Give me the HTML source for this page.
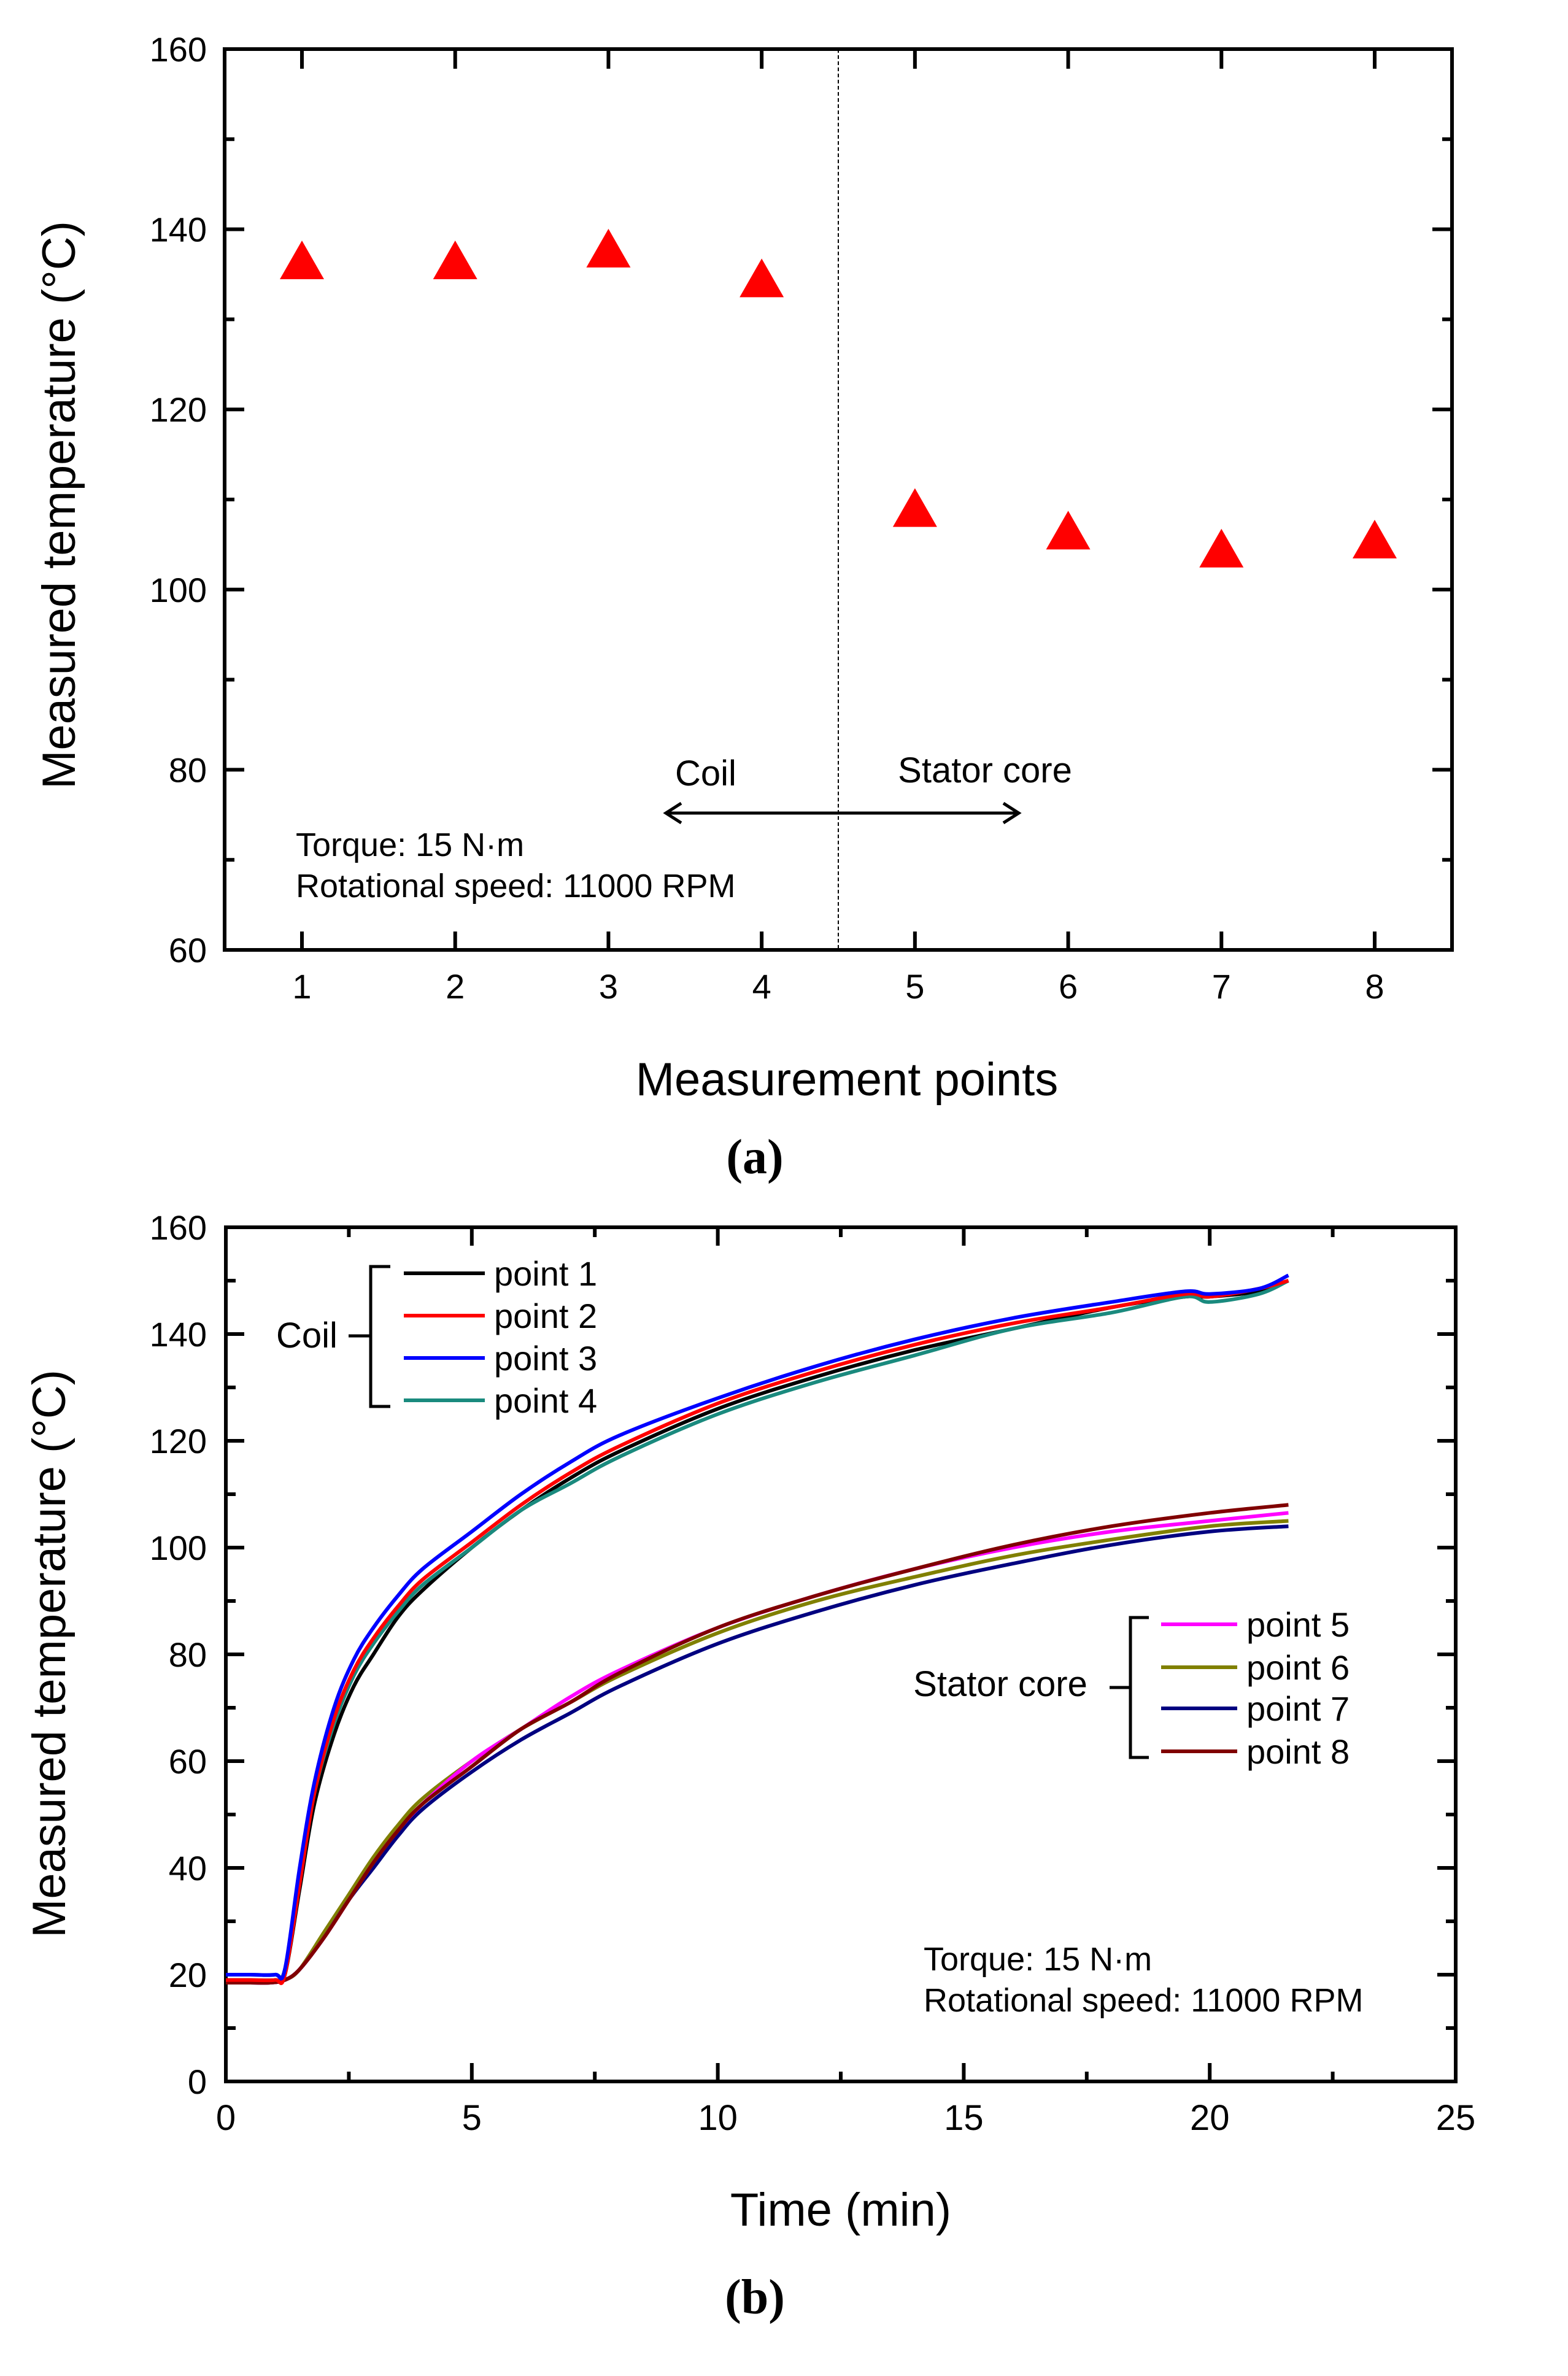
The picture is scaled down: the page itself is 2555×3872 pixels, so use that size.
<!DOCTYPE html>
<html><head><meta charset="utf-8"><style>
html,body{margin:0;padding:0;background:#fff;}
svg{display:block;}
text{font-family:"Liberation Sans",sans-serif;fill:#000;}
</style></head><body>
<svg id="svg" width="2555" height="3872" viewBox="0 0 2555 3872" xmlns="http://www.w3.org/2000/svg">
<g id="pa"></g>
<g id="pb"></g>
</svg>
<script>
// ---- Chart (a) data ----
const aPoints = [1,2,3,4,5,6,7,8];
const aTemps = [136.5,136.5,137.8,134.5,109,106.5,104.5,105.5];
const aYTicks = [60,80,100,120,140,160];
const aXTicks = [1,2,3,4,5,6,7,8];
// ---- Chart (b) data ----
const coilTime = [0,0.5,1,1.2,1.5,1.8,2.2,2.6,3,3.5,4,5,6,7,8,10,12,14,16,18,19.5,20,21,21.6];
const point1 = [19,19,19,20,36,52,65,74,80,87,92,100,107,113,118,126,132,137,141,145,147,147,148,150];
const point2 = [19,19,19,20,37,54,68,77,83,89,94,101,108,114,119,127,133,138,142,145,147.5,147,148.5,150];
const point3 = [20,20,20,21,40,56,70,79,85,91,96,103,110,116,121,128,134,139,143,146,148,147.5,148.5,151];
const point4 = [20,20,20,21,38,54,67,76,82,88,93,100,107,112,117,125,131,136,141,144,147,146,147.5,150];
const coreTime = [0,0.5,0.9,1.2,1.5,2,2.5,3,3.5,4,5,6,7,8,10,12,14,16,18,20,21.6];
const point5 = [18.5,18.5,18.5,19,21,27,34,41,47,52,60,66,72,77,85,91,96,100,103,105,106.5];
const point6 = [18.5,18.5,18.5,19,21,28,35,42,48,53,60,66,71,76,84,90,94.5,98.5,101.5,104,105];
const point7 = [18.5,18.5,18.5,19,21,27,34,40,46,51,58,64,69,74,82,88,93,97,100.5,103,104];
const point8 = [18.5,18.5,18.5,19,21,27,34,41,47,52,59,66,71,76.5,85,91,96,100.5,104,106.5,108];
const bYTicks = [0,20,40,60,80,100,120,140,160];
const bXTicks = [0,5,10,15,20,25];

const NS="http://www.w3.org/2000/svg";
function mk(parent,tag,attrs,txt){const e=document.createElementNS(NS,tag);for(const k in attrs)e.setAttribute(k,attrs[k]);if(txt!==undefined)e.textContent=txt;parent.appendChild(e);return e;}

// ===== Chart A =====
const A=document.getElementById('pa');
const aL=366,aR=2366,aT=80,aB=1548;
const ax=v=>492+(v-1)*(2240-492)/7;
const ay=v=>aB-(v-60)*(aB-aT)/100;
let e;
e=mk(A,'rect',{x:aL,y:aT,width:aR-aL,height:aB-aT,fill:'none',stroke:'#000','stroke-width':6});


for(let v=60;v<=160;v+=10){const major=v%20===0;const len=major?32:16;
 mk(A,'line',{x1:aL,x2:aL+len,y1:ay(v),y2:ay(v),stroke:'#000','stroke-width':6});
 mk(A,'line',{x1:aR,x2:aR-len,y1:ay(v),y2:ay(v),stroke:'#000','stroke-width':6});}
aYTicks.forEach(v=>{e=mk(A,'text',{x:337,y:ay(v)+20,'font-size':56,'text-anchor':'end'},String(v));
 
 });
aXTicks.forEach(v=>{mk(A,'line',{x1:ax(v),x2:ax(v),y1:aB,y2:aB-30,stroke:'#000','stroke-width':6});
 mk(A,'line',{x1:ax(v),x2:ax(v),y1:aT,y2:aT+32,stroke:'#000','stroke-width':6});
 e=mk(A,'text',{x:ax(v),y:1627,'font-size':56,'text-anchor':'middle'},String(v));
 
 });
e=mk(A,'line',{x1:ax(4.5),x2:ax(4.5),y1:aT,y2:aB,stroke:'#000','stroke-width':2,'stroke-dasharray':'6,4'});


aTemps.forEach((t,i)=>{const cx=ax(aPoints[i]),cy=ay(t);
 e=mk(A,'polygon',{points:`${cx},${cy-33} ${cx-36},${cy+30} ${cx+36},${cy+30}`,fill:'#ff0000'});
 
 });
// arrow
e=mk(A,'g',{});


mk(e,'line',{x1:1085,x2:1660,y1:1325,y2:1325,stroke:'#000','stroke-width':5});
mk(e,'polyline',{points:'1110,1309 1085,1325 1110,1341',fill:'none',stroke:'#000','stroke-width':5});
mk(e,'polyline',{points:'1635,1309 1660,1325 1635,1341',fill:'none',stroke:'#000','stroke-width':5});
e=mk(A,'text',{x:1150,y:1280,'font-size':58,'text-anchor':'middle'},'Coil');


e=mk(A,'text',{x:1605,y:1275,'font-size':58,'text-anchor':'middle'},'Stator core');


e=mk(A,'text',{x:482,y:1395,'font-size':54},'Torque: 15 N·m');


e=mk(A,'text',{x:482,y:1462,'font-size':54},'Rotational speed:  11000  RPM');


e=mk(A,'text',{x:1380,y:1785,'font-size':76,'text-anchor':'middle'},'Measurement points');


e=mk(A,'text',{x:0,y:0,'font-size':76,'text-anchor':'middle',transform:'translate(122,823) rotate(-90)'},'Measured temperature (°C)');


e=mk(A,'text',{x:1230,y:1912,'font-size':80,'font-weight':'bold','text-anchor':'middle',style:'font-family:"Liberation Serif",serif'},'(a)');



// ===== Chart B =====
const B=document.getElementById('pb');
const bL=368,bR=2372,bT=2000,bB=3392;
const bx=v=>bL+v*(bR-bL)/25;
const by=v=>bB-v*(bB-bT)/160;
e=mk(B,'rect',{x:bL,y:bT,width:bR-bL,height:bB-bT,fill:'none',stroke:'#000','stroke-width':6});


for(let v=0;v<=160;v+=10){const major=v%20===0;const len=major?30:16;
 mk(B,'line',{x1:bL,x2:bL+len,y1:by(v),y2:by(v),stroke:'#000','stroke-width':6});
 mk(B,'line',{x1:bR,x2:bR-len,y1:by(v),y2:by(v),stroke:'#000','stroke-width':6});}
for(let v=0;v<=25;v+=2.5){const major=v%5===0;const len=major?30:16;
 mk(B,'line',{x1:bx(v),x2:bx(v),y1:bB,y2:bB-len,stroke:'#000','stroke-width':6});
 mk(B,'line',{x1:bx(v),x2:bx(v),y1:bT,y2:bT+len,stroke:'#000','stroke-width':6});}
bYTicks.forEach(v=>{e=mk(B,'text',{x:337,y:by(v)+20,'font-size':56,'text-anchor':'end'},String(v));
 
 });
bXTicks.forEach(v=>{e=mk(B,'text',{x:bx(v),y:3471,'font-size':58,'text-anchor':'middle'},String(v));
 
 });
function curve(ts,vs,color,name){
 const pts=ts.map((t,i)=>[bx(t),by(vs[i])]);
 let d='M'+pts[0][0]+','+pts[0][1];
 for(let i=0;i<pts.length-1;i++){const p0=pts[Math.max(0,i-1)],p1=pts[i],p2=pts[i+1],p3=pts[Math.min(pts.length-1,i+2)];
  const c1=[p1[0]+(p2[0]-p0[0])/6,p1[1]+(p2[1]-p0[1])/6],c2=[p2[0]-(p3[0]-p1[0])/6,p2[1]-(p3[1]-p1[1])/6];
  d+=` C${c1[0]},${c1[1]} ${c2[0]},${c2[1]} ${p2[0]},${p2[1]}`;}
 const el=mk(B,'path',{d:d,fill:'none',stroke:color,'stroke-width':6,'stroke-linejoin':'round'});
 
 
}
curve(coreTime,point6,'#808000','series-point-6');
curve(coreTime,point7,'#000080','series-point-7');
curve(coreTime,point5,'#ff00ff','series-point-5');
curve(coreTime,point8,'#800000','series-point-8');
curve(coilTime,point1,'#000000','series-point-1');
curve(coilTime,point4,'#1a8a7e','series-point-4');
curve(coilTime,point2,'#ff0000','series-point-2');
curve(coilTime,point3,'#0000ff','series-point-3');
// legends
function legend(x1,x2,tx,ys,colors,labels,group){
 ys.forEach((y,i)=>{const g=mk(B,'g',{});
  
  
  mk(g,'line',{x1:x1,x2:x2,y1:y,y2:y,stroke:colors[i],'stroke-width':6});
  mk(g,'text',{x:tx,y:y+20,'font-size':56},labels[i]);});
}
legend(658,790,805,[2075,2144,2213,2282],['#000','#ff0000','#0000ff','#1a8a7e'],['point 1','point 2','point 3','point 4'],'coil');
e=mk(B,'path',{d:'M636,2064 L604,2064 L604,2292 L636,2292 M604,2177 L568,2177',fill:'none',stroke:'#000','stroke-width':5});


e=mk(B,'text',{x:500,y:2196,'font-size':58,'text-anchor':'middle'},'Coil');


legend(1892,2016,2031,[2647,2717,2784,2854],['#ff00ff','#808000','#000080','#800000'],['point 5','point 6','point 7','point 8'],'core');
e=mk(B,'path',{d:'M1872,2636 L1842,2636 L1842,2864 L1872,2864 M1842,2750 L1808,2750',fill:'none',stroke:'#000','stroke-width':5});


e=mk(B,'text',{x:1630,y:2764,'font-size':58,'text-anchor':'middle'},'Stator core');


e=mk(B,'text',{x:1505,y:3211,'font-size':54},'Torque: 15 N·m');


e=mk(B,'text',{x:1505,y:3278,'font-size':54},'Rotational speed:  11000  RPM');


e=mk(B,'text',{x:1370,y:3627,'font-size':76,'text-anchor':'middle'},'Time (min)');


e=mk(B,'text',{x:0,y:0,'font-size':76,'text-anchor':'middle',transform:'translate(106,2695) rotate(-90)'},'Measured temperature (°C)');


e=mk(B,'text',{x:1230,y:3770,'font-size':80,'font-weight':'bold','text-anchor':'middle',style:'font-family:"Liberation Serif",serif'},'(b)');


</script>
</body></html>
